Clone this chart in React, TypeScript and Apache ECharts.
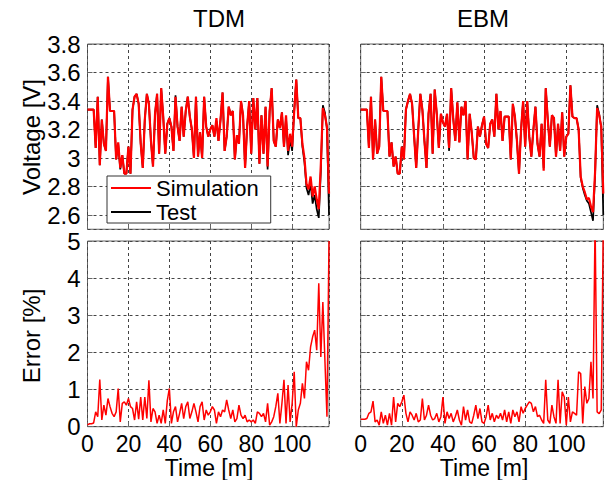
import React, { useEffect, useRef } from "react";
import * as echarts from "echarts";

// Time axis: one sample per minute, starting at 0
const tdmSim = [
  3.34, 3.34, 3.34, 3.34, 3.07, 3.43, 2.95, 3.27, 3.10, 3.05,
  3.57, 3.33, 3.33, 3.33, 2.99, 3.11, 2.93, 3.02, 2.89, 2.89,
  3.08, 2.89, 3.34, 3.43, 3.45, 3.38, 3.10, 2.93, 3.27, 3.45,
  3.38, 3.12, 2.94, 3.31, 3.45, 3.03, 3.49, 3.29, 3.03, 3.24,
  3.28, 3.22, 3.05, 3.43, 3.22, 3.12, 3.36, 3.15, 3.33, 3.43,
  3.29, 3.20, 3.00, 3.43, 3.01, 3.18, 3.00, 3.43, 3.22, 3.15,
  3.20, 3.23, 3.15, 3.28, 3.12, 3.27, 3.46, 3.05, 3.15, 3.36,
  3.30, 3.33, 2.99, 3.16, 3.10, 3.40, 3.30, 2.93, 3.22, 3.40,
  3.03, 3.42, 3.20, 3.42, 2.96, 3.30, 3.03, 3.36, 2.94, 3.33,
  3.49, 3.12, 3.08, 3.27, 3.21, 3.32, 3.08, 3.30, 3.05, 3.17,
  3.08, 3.33, 3.55, 3.28, 3.28, 3.10, 3.00, 2.82, 2.78, 2.87,
  2.73, 2.80, 2.71, 2.64, 2.95, 3.35, 3.30, 3.22, 2.75,
];
const tdmTest = [
  3.34, 3.34, 3.34, 3.34, 3.07, 3.43, 2.95, 3.27, 3.10, 3.05,
  3.57, 3.33, 3.33, 3.33, 2.99, 3.10, 2.92, 3.02, 2.89, 2.89,
  3.08, 2.89, 3.34, 3.43, 3.45, 3.38, 3.10, 2.93, 3.27, 3.45,
  3.38, 3.12, 2.94, 3.31, 3.45, 3.03, 3.49, 3.29, 3.03, 3.24,
  3.28, 3.22, 3.05, 3.44, 3.22, 3.12, 3.36, 3.15, 3.33, 3.43,
  3.29, 3.20, 3.00, 3.43, 3.01, 3.18, 3.00, 3.43, 3.22, 3.15,
  3.20, 3.23, 3.15, 3.26, 3.12, 3.27, 3.46, 3.05, 3.15, 3.36,
  3.30, 3.33, 2.99, 3.16, 3.10, 3.40, 3.30, 2.93, 3.22, 3.40,
  3.03, 3.42, 3.20, 3.42, 2.96, 3.30, 3.03, 3.36, 2.92, 3.33,
  3.49, 3.12, 3.08, 3.27, 3.21, 3.32, 3.08, 3.28, 3.02, 3.13,
  3.05, 3.33, 3.55, 3.28, 3.28, 3.08, 2.97, 2.79, 2.74, 2.82,
  2.68, 2.74, 2.64, 2.58, 2.90, 3.37, 3.32, 3.20, 2.60,
];
const ebmSim = [
  3.34, 3.34, 3.34, 3.34, 3.07, 3.43, 2.99, 3.27, 3.03, 3.08,
  3.57, 3.33, 3.33, 3.33, 3.01, 3.11, 2.94, 3.01, 2.89, 2.89,
  3.08, 2.99, 3.34, 3.40, 3.45, 3.38, 3.15, 2.93, 3.20, 3.45,
  3.34, 3.12, 2.93, 3.31, 3.45, 3.03, 3.48, 3.31, 3.07, 3.31,
  3.25, 3.22, 3.31, 3.07, 3.49, 3.28, 3.12, 3.39, 3.11, 3.36,
  3.30, 3.40, 2.99, 3.31, 3.18, 3.00, 2.99, 3.22, 3.15, 3.23,
  3.29, 3.10, 3.07, 3.24, 3.27, 3.15, 3.45, 3.20, 3.33, 3.12,
  3.29, 3.29, 3.29, 2.99, 3.38, 3.29, 3.12, 2.89, 3.20, 3.40,
  3.08, 3.40, 3.15, 3.01, 3.20, 3.36, 3.10, 3.01, 3.24, 2.91,
  3.49, 3.27, 3.08, 3.30, 3.28, 3.01, 3.24, 3.05, 3.32, 3.01,
  3.15, 3.17, 3.51, 3.29, 3.28, 3.28, 3.20, 2.87, 2.80, 2.76,
  2.71, 2.72, 2.66, 2.62, 2.90, 3.35, 3.30, 3.22, 2.75,
];
const ebmTest = [
  3.34, 3.34, 3.34, 3.34, 3.07, 3.43, 2.99, 3.27, 3.03, 3.08,
  3.57, 3.33, 3.33, 3.33, 3.01, 3.11, 2.94, 3.01, 2.89, 2.89,
  3.08, 2.99, 3.34, 3.40, 3.45, 3.38, 3.15, 2.93, 3.20, 3.45,
  3.34, 3.12, 2.93, 3.31, 3.45, 3.03, 3.48, 3.31, 3.07, 3.31,
  3.25, 3.22, 3.31, 3.05, 3.49, 3.28, 3.12, 3.39, 3.11, 3.36,
  3.30, 3.40, 2.99, 3.31, 3.18, 3.00, 2.99, 3.22, 3.15, 3.23,
  3.29, 3.10, 3.07, 3.24, 3.27, 3.15, 3.45, 3.20, 3.33, 3.12,
  3.29, 3.29, 3.29, 2.99, 3.38, 3.29, 3.12, 2.89, 3.20, 3.40,
  3.08, 3.40, 3.15, 3.01, 3.20, 3.36, 3.10, 3.01, 3.24, 2.93,
  3.49, 3.27, 3.08, 3.30, 3.28, 3.01, 3.24, 3.05, 3.32, 3.01,
  3.15, 3.17, 3.51, 3.29, 3.28, 3.28, 3.20, 2.86, 2.79, 2.74,
  2.70, 2.68, 2.62, 2.56, 2.88, 3.37, 3.31, 3.21, 2.60,
];
const tdmErr = [
  0.05, 0.08, 0.08, 0.10, 0.40, 0.27, 1.27, 0.18, 0.58, 0.31,
  0.76, 0.54, 0.36, 0.27, 0.40, 1.03, 0.13, 0.63, 0.67, 0.58,
  0.76, 0.54, 0.49, 0.18, 0.67, 0.20, 0.80, 0.18, 0.80, 0.22,
  1.25, 0.13, 0.49, 0.40, 0.09, 0.31, 0.09, 0.45, 0.09, 0.71,
  1.03, 0.09, 0.40, 0.54, 0.13, 0.36, 0.63, 0.22, 0.54, 0.67,
  0.22, 0.40, 0.63, 0.40, 0.13, 0.54, 0.67, 0.18, 0.45, 0.31,
  0.40, 0.54, 0.45, 0.09, 0.40, 0.27, 0.45, 0.40, 0.72, 0.45,
  0.22, 0.45, 0.13, 0.22, 0.58, 0.31, 0.22, 0.31, 0.13, 0.18,
  0.13, 0.18, 0.09, 0.40, 0.36, 0.27, 0.36, 0.13, 0.63, 0.04,
  0.13, 0.27, 0.54, 0.90, 0.09, 0.63, 1.26, 0.09, 1.12, 0.13,
  0.63, 1.48, 0.00, 0.45, 0.63, 1.17, 0.76, 1.75, 1.52, 2.15,
  2.42, 2.60, 2.06, 3.86, 1.88, 3.36, 1.79, 0.27, 5.00,
];
const ebmErr = [
  0.20, 0.20, 0.20, 0.22, 0.36, 0.40, 0.69, 0.13, 0.18, 0.04,
  0.40, 0.09, 0.31, 0.04, 0.36, 0.04, 0.80, 0.13, 0.63, 0.54,
  0.67, 0.85, 0.36, 0.13, 0.40, 0.31, 0.18, 0.36, 0.13, 0.18,
  0.76, 0.18, 0.31, 0.58, 0.31, 0.18, 0.22, 0.36, 0.13, 0.27,
  0.80, 0.09, 0.40, 0.22, 0.36, 0.13, 0.27, 0.45, 0.18, 0.04,
  0.54, 0.18, 0.45, 0.13, 0.09, 0.31, 0.58, 0.22, 0.49, 0.13,
  0.09, 0.27, 0.58, 0.18, 0.36, 0.13, 0.31, 0.22, 0.36, 0.18,
  0.45, 0.13, 0.40, 0.09, 0.45, 0.27, 0.40, 0.13, 0.54, 0.36,
  0.49, 0.58, 0.67, 0.63, 0.40, 0.54, 0.27, 0.31, 0.18, 0.09,
  1.26, 0.18, 0.09, 0.58, 0.27, 0.09, 1.26, 0.09, 0.94, 0.80,
  0.04, 0.80, 0.13, 0.40, 0.36, 0.31, 1.48, 1.43, 0.09, 1.08,
  0.63, 0.76, 1.75, 0.76, 5.50, 0.40, 0.35, 0.45, 5.50,
];

const xTicksMax = 118;
const FONT = "'Liberation Sans', Arial, sans-serif";

const toPairs = (arr: number[]) => arr.map((v, i) => [i, v]);

export default function App() {
  const ref = useRef<HTMLDivElement>(null);
  useEffect(() => {
    if (!ref.current) return;
    const chart = echarts.init(ref.current, null, { renderer: "svg" });
    const gridStyle = { show: true, borderColor: "#666", borderWidth: 1, backgroundColor: "#fff" };
    const grids = [
      { left: 87.5, top: 44, width: 241.5, height: 185.25, ...gridStyle },
      { left: 87.5, top: 241, width: 241.5, height: 185.7, ...gridStyle },
      { left: 360.7, top: 44, width: 242.6, height: 185.25, ...gridStyle },
      { left: 360.7, top: 241, width: 242.6, height: 185.7, ...gridStyle },
    ];
    const split = { show: true, lineStyle: { color: "#444", type: [3, 3] as any, width: 1 } };
    const tick = { show: true, inside: true, length: 5, lineStyle: { color: "#666" } };
    const xAxes = [0, 1, 2, 3].map((g) => ({
      type: "value",
      gridIndex: g,
      min: 0,
      max: xTicksMax,
      interval: 20,
      axisLine: { show: false },
      axisTick: tick,
      splitLine: split,
      axisLabel: {
        show: g === 1 || g === 3,
        fontSize: 23,
        lineHeight: 19,
        fontFamily: FONT,
        color: "#000",
        margin: 8,
        showMaxLabel: false,
      },
    }));
    const yAxes = [0, 1, 2, 3].map((g) => {
      const volt = g === 0 || g === 2;
      return {
        type: "value",
        gridIndex: g,
        min: volt ? 2.5 : 0,
        max: volt ? 3.8 : 5,
        ...(volt ? { splitNumber: 7 } : { interval: 1 }),
        axisLine: { show: false },
        axisTick: tick,
        splitLine: split,
        axisLabel: {
          show: g === 0 || g === 1,
          fontSize: 24,
          lineHeight: 22,
          fontFamily: FONT,
          color: "#000",
          margin: 7,
          showMinLabel: !volt,
        },
      };
    });
    const line = (name: string, data: number[], idx: number, color: string, width: number) => ({
      type: "line",
      name,
      data: toPairs(data),
      xAxisIndex: idx,
      yAxisIndex: idx,
      symbol: "none",
      showSymbol: false,
      lineStyle: { color, width },
      itemStyle: { color },
      clip: true,
      z: color === "#000" ? 2 : 3,
    });
    const txt = (text: string, x: number, y: number, rot = 0, size = 24) => ({
      type: "text",
      x,
      y,
      rotation: rot,
      style: {
        text,
        fontSize: size,
        lineHeight: 20,
        fontFamily: FONT,
        fill: "#000",
        align: "center",
        verticalAlign: "middle",
      },
    });
    chart.setOption({
      animation: false,
      backgroundColor: "#fff",
      grid: grids,
      xAxis: xAxes,
      yAxis: yAxes,
      legend: {
        data: ["Simulation", "Test"],
        orient: "vertical",
        left: 107,
        top: 176,
        backgroundColor: "#fff",
        borderColor: "#333",
        borderWidth: 1,
        padding: [1, 12, 0, 4],
        itemGap: 2,
        itemWidth: 40,
        itemHeight: 2,
        icon: "rect",
        textStyle: { fontSize: 22, lineHeight: 22, fontFamily: FONT, color: "#000" },
        selectedMode: false,
      },
      series: [
        line("Test", tdmTest, 0, "#000", 1.7),
        line("Simulation", tdmSim, 0, "#ff0000", 2.2),
        line("TDM error", tdmErr, 1, "#ff0000", 1.5),
        line("Test", ebmTest, 2, "#000", 1.7),
        line("Simulation", ebmSim, 2, "#ff0000", 2.2),
        line("EBM error", ebmErr, 3, "#ff0000", 1.5),
      ],
      graphic: [
        txt("TDM", 219, 18),
        txt("EBM", 483, 18),
        txt("Voltage [V]", 31, 137, Math.PI / 2),
        txt("Error [%]", 31, 336, Math.PI / 2),
        txt("Time [m]", 209, 468, 0, 23),
        txt("Time [m]", 484, 468, 0, 23),
      ],
    });
    return () => chart.dispose();
  }, []);
  return (
    <div
      ref={ref}
      style={{ position: "absolute", left: 0, top: 0, width: 608, height: 480 }}
    />
  );
}
